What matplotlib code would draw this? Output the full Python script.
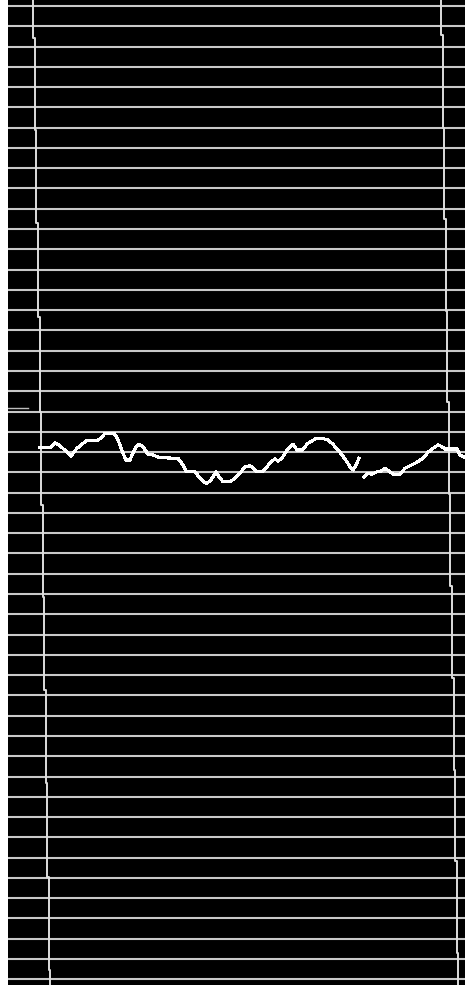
import numpy as np
import matplotlib
matplotlib.use("Agg")
import matplotlib.pyplot as plt

# Ruled sheet: 49 evenly spaced rules, first and last rule position (px from top)
rule_first = 6.0
rule_last = 979.3
rule_count = 49

# Left margin line: x position of each segment and the y where segments break
left_margin_x = [33.3, 35.0, 36.3, 38.3, 40.0, 41.3, 42.7, 44.3, 45.7, 47.3, 49.0, 50.3]
left_margin_breaks = [0, 38, 130, 223, 317, 412, 505, 597, 690, 783, 877, 970, 985]

# Right margin line
right_margin_x = [441.3, 442.7, 444.3, 445.8, 447.4, 449.0, 450.4, 452.0, 453.5, 455.0, 456.7, 458.0]
right_margin_breaks = [0, 35, 128, 219, 311, 402, 494, 586, 678, 770, 861, 953, 985]

# Recorded trace (x, y in sheet pixels); NaN marks the pen lift
trace_x = [40, 50, 55, 60, 71, 77, 86, 98, 101, 105, 114, 117, 120, 123, 126, 130,
           132, 136, 139, 143, 148, 153, 160, 178, 183, 186, 195, 200, 204, 207, 211,
           216, 219, 223, 230, 235, 241, 245, 250, 253, 257, 262, 267, 272, 275, 278,
           282, 287, 293, 297, 302, 308, 315, 322, 328, 333, 340, 345, 350, 353, 356,
           359, np.nan, 364, 368, 372, 377, 380, 385, 390, 393, 400, 405, 410, 415,
           423, 428, 433, 438, 442, 445, 457, 460, 465]
trace_y = [447.7, 447.7, 442.7, 445.7, 456.0, 448.3, 441.0, 440.0, 438.0, 433.3, 433.3,
           437.7, 445.0, 453.3, 460.0, 460.0, 455.0, 447.0, 444.3, 446.7, 454.3, 455.0,
           457.7, 458.3, 465.0, 471.0, 471.7, 478.3, 482.3, 483.3, 480.0, 471.7, 476.7,
           481.7, 481.7, 478.3, 471.7, 467.0, 465.7, 467.7, 471.7, 471.7, 466.7, 461.0,
           459.0, 461.0, 458.3, 450.0, 444.3, 450.0, 450.0, 443.3, 439.0, 438.3, 440.0,
           444.3, 452.3, 459.0, 466.7, 470.0, 465.0, 458.3, np.nan, 476.7, 473.3, 474.3,
           471.7, 471.7, 468.3, 471.7, 474.3, 474.3, 468.3, 465.7, 463.3, 458.3, 452.3,
           448.3, 445.0, 446.7, 449.0, 449.0, 455.0, 457.7]

# short tick mark on the left edge
tick_x = [8, 28]
tick_y = [408.3, 408.3]


def stepped_line(xs, breaks):
    # vertical line that jogs sideways at each break
    px, py = [], []
    for i, x in enumerate(xs):
        px += [x, x]
        py += [breaks[i], breaks[i + 1]]
    return px, py


fig = plt.figure(figsize=(4.65, 9.85), dpi=100, facecolor="white")
ax = fig.add_axes([8 / 465, 0, 457 / 465, 1])
ax.set_facecolor("black")
ax.set_xlim(8, 465)
ax.set_ylim(985, 0)

# rules via y grid
ax.set_yticks(np.linspace(rule_first, rule_last, rule_count))
ax.set_xticks([])
ax.tick_params(length=0, labelleft=False, labelbottom=False)
ax.grid(axis="y", color="#c8c8c8", linewidth=1.5)
ax.set_axisbelow(True)
for s in ax.spines.values():
    s.set_visible(False)

lx, ly = stepped_line(left_margin_x, left_margin_breaks)
ax.plot(lx, ly, color="#dedede", linewidth=1.4, zorder=2)
rx, ry = stepped_line(right_margin_x, right_margin_breaks)
ax.plot(rx, ry, color="#dedede", linewidth=1.4, zorder=2)

ax.plot(tick_x, tick_y, color="#bdbdbd", linewidth=1.0, zorder=2)

# pen trace drawn without smoothing so it keeps the stair-step look
ax.plot(trace_x, trace_y, color="white", linewidth=1.5, antialiased=False, zorder=3)

plt.savefig("out.png", dpi=100, facecolor=fig.get_facecolor())
plt.close()
